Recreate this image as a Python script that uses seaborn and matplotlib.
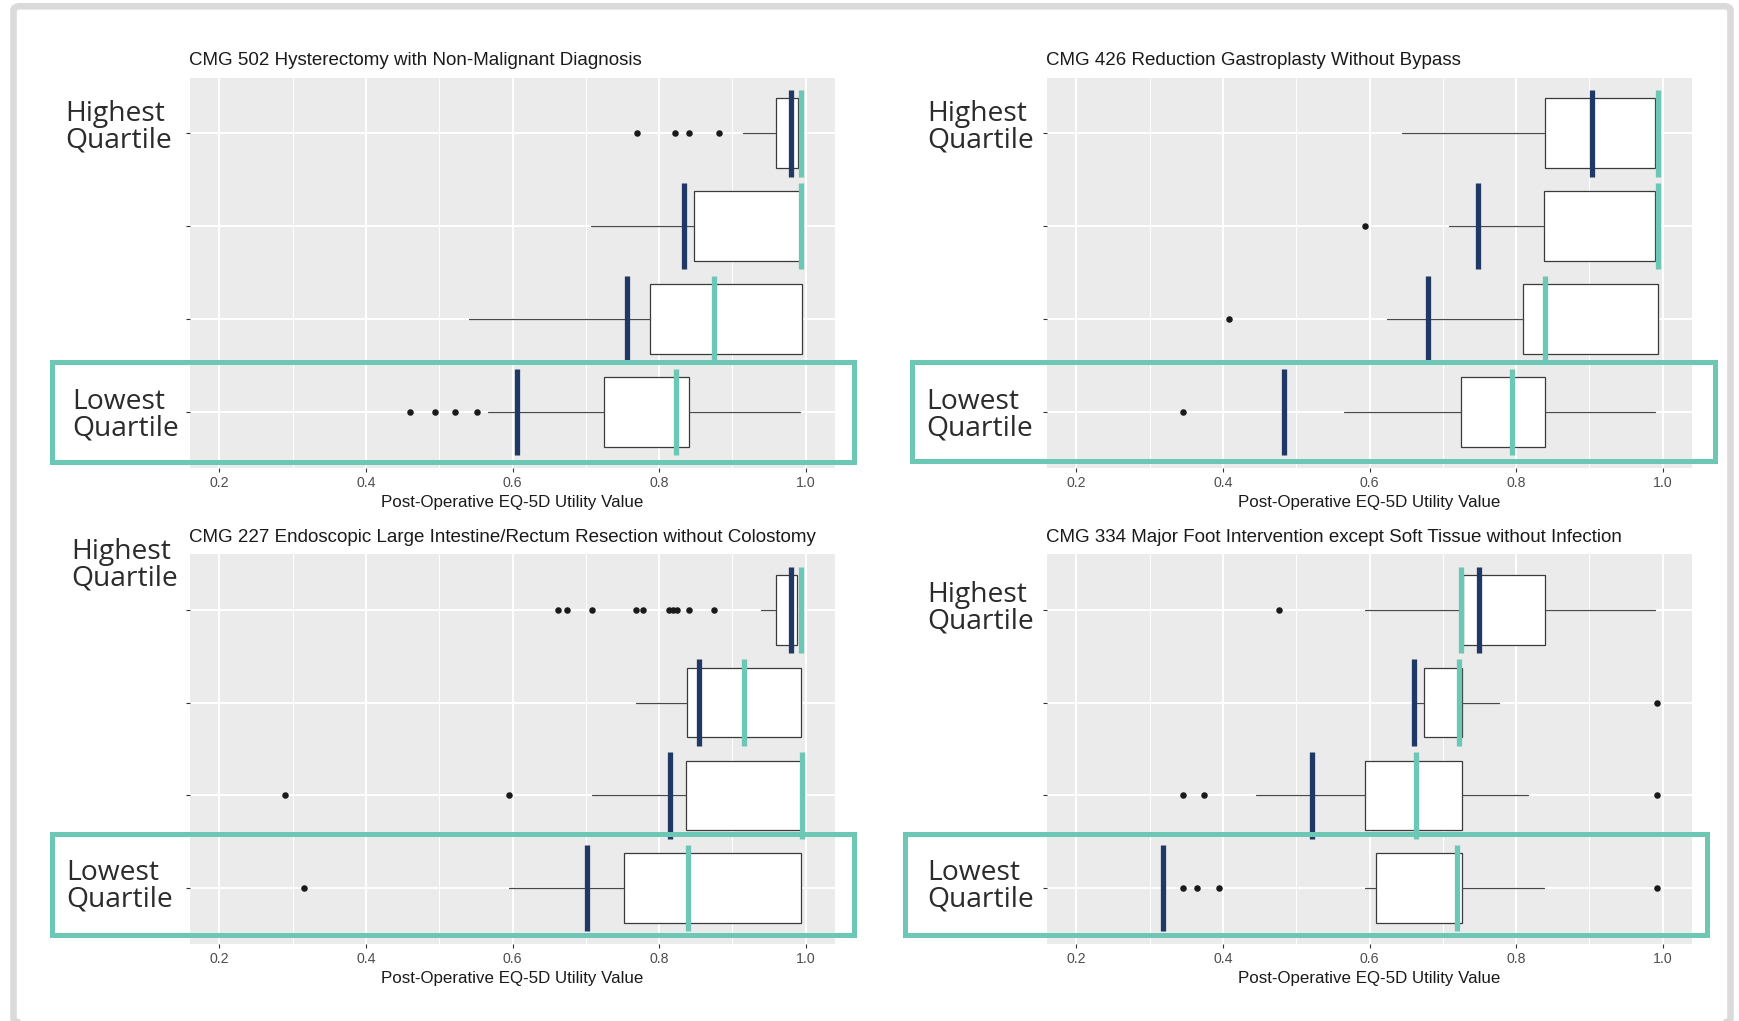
import matplotlib
matplotlib.use("Agg")
import matplotlib.pyplot as plt
from matplotlib.patches import Rectangle, FancyBboxPatch
import seaborn as sns
import pandas as pd

# ---------------------------------------------------------------
# DATA  (rows: Highest quartile -> Lowest quartile)
# ---------------------------------------------------------------
titles = [
    "CMG 502 Hysterectomy with Non-Malignant Diagnosis",
    "CMG 426 Reduction Gastroplasty Without Bypass",
    "CMG 227 Endoscopic Large Intestine/Rectum Resection without Colostomy",
    "CMG 334 Major Foot Intervention except Soft Tissue without Infection",
]
x_label = "Post-Operative EQ-5D Utility Value"
x_ticks = [0.2, 0.4, 0.6, 0.8, 1.0]
row_pos = [4, 3, 2, 1]

# CMG 502
p1_whislo = [0.915, 0.707, 0.540, 0.566]
p1_q1     = [0.959, 0.848, 0.788, 0.725]
p1_q3     = [0.989, 0.992, 0.995, 0.841]
p1_whishi = [0.989, 0.992, 0.995, 0.992]
p1_navy   = [0.980, 0.834, 0.756, 0.606]
p1_teal   = [0.993, 0.993, 0.875, 0.823]
p1_out    = [[0.770, 0.822, 0.841, 0.882], [], [], [0.460, 0.494, 0.521, 0.551]]

# CMG 426
p2_whislo = [0.644, 0.709, 0.624, 0.565]
p2_q1     = [0.840, 0.838, 0.809, 0.725]
p2_q3     = [0.990, 0.990, 0.993, 0.840]
p2_whishi = [0.990, 0.990, 0.993, 0.990]
p2_navy   = [0.904, 0.748, 0.680, 0.483]
p2_teal   = [0.993, 0.993, 0.840, 0.794]
p2_out    = [[], [0.594], [0.408], [0.346]]

# CMG 227
p3_whislo = [0.939, 0.769, 0.708, 0.595]
p3_q1     = [0.959, 0.838, 0.837, 0.752]
p3_q3     = [0.988, 0.994, 0.994, 0.994]
p3_whishi = [0.988, 0.994, 0.994, 0.994]
p3_navy   = [0.980, 0.854, 0.815, 0.702]
p3_teal   = [0.993, 0.916, 0.995, 0.839]
p3_out    = [[0.662, 0.674, 0.708, 0.769, 0.778, 0.814, 0.819, 0.824, 0.841, 0.875],
             [], [0.289, 0.595], [0.316]]

# CMG 334
p4_whislo = [0.594, 0.660, 0.445, 0.594]
p4_q1     = [0.728, 0.675, 0.594, 0.609]
p4_q3     = [0.840, 0.726, 0.726, 0.726]
p4_whishi = [0.990, 0.777, 0.816, 0.838]
p4_navy   = [0.749, 0.661, 0.521, 0.318]
p4_teal   = [0.725, 0.722, 0.663, 0.719]
p4_out    = [[0.477], [0.992], [0.346, 0.374, 0.992], [0.346, 0.365, 0.394, 0.992]]

# ---------------------------------------------------------------
# STYLE / LAYOUT
# ---------------------------------------------------------------
W, H = 1739, 1021
NAVY = "#1f3864"
TEAL = "#6cc7b5"

sns.set_theme(style="darkgrid", rc={"axes.facecolor": "#ebebeb", "grid.color": "white"})
plt.rcParams["font.family"] = ["Liberation Sans", "DejaVu Sans"]

fig = plt.figure(figsize=(W / 100, H / 100), dpi=100)
fig.patch.set_facecolor("white")


def px_axes(x0, y0, x1, y1):
    return fig.add_axes([x0 / W, 1 - y1 / H, (x1 - x0) / W, (y1 - y0) / H])


def px_text(x, y, s, **kw):
    fig.text(x / W, 1 - y / H, s, **kw)


panels = [
    (p1_whislo, p1_q1, p1_q3, p1_whishi, p1_navy, p1_teal, p1_out),
    (p2_whislo, p2_q1, p2_q3, p2_whishi, p2_navy, p2_teal, p2_out),
    (p3_whislo, p3_q1, p3_q3, p3_whishi, p3_navy, p3_teal, p3_out),
    (p4_whislo, p4_q1, p4_q3, p4_whishi, p4_navy, p4_teal, p4_out),
]
boxes_px = [(190, 77.5, 835, 468), (1047, 77.5, 1692, 468),
            (190, 554, 835, 944), (1047, 554, 1692, 944)]

for i, (wlo, q1, q3, whi, navy, teal, outs) in enumerate(panels):
    ax = px_axes(*boxes_px[i])
    stats = [dict(whislo=wlo[k], q1=q1[k], med=q3[k], q3=q3[k], whishi=whi[k], fliers=[])
             for k in range(4)]
    ax.bxp(stats, positions=row_pos, widths=0.75, orientation="horizontal",
           patch_artist=True, showcaps=False, manage_ticks=False,
           boxprops=dict(facecolor="white", edgecolor="#3a3a3a", linewidth=0.9),
           whiskerprops=dict(color="#4a4a4a", linewidth=0.9),
           medianprops=dict(linewidth=0))

    df = pd.DataFrame([(v, row_pos[k]) for k in range(4) for v in outs[k]],
                      columns=["value", "pos"])
    sns.scatterplot(data=df, x="value", y="pos", color="#1a1a1a", s=22,
                    linewidth=0, ax=ax, legend=False, zorder=3)

    ax.vlines(navy, [p - 0.465 for p in row_pos], [p + 0.465 for p in row_pos],
              color=NAVY, linewidth=3.8, zorder=4)
    ax.vlines(teal, [p - 0.465 for p in row_pos], [p + 0.465 for p in row_pos],
              color=TEAL, linewidth=3.8, zorder=5)

    ax.set_xlim(0.16, 1.04)
    ax.set_ylim(0.4, 4.6)
    ax.set_xticks(x_ticks)
    ax.set_xticklabels([f"{t:.1f}" for t in x_ticks])
    ax.set_xticks([0.3, 0.5, 0.7, 0.9], minor=True)
    ax.set_yticks(row_pos)
    ax.set_yticklabels([])
    ax.set_xlabel("")
    ax.set_ylabel("")
    ax.grid(which="major", color="white", linewidth=1.4)
    ax.grid(which="minor", axis="x", color="white", linewidth=0.7)
    ax.tick_params(axis="both", which="major", length=3, width=0.8, color="#333333",
                   labelsize=10.2, labelcolor="#4d4d4d", pad=3, bottom=True, left=True)
    ax.tick_params(which="minor", length=0)
    for sp in ax.spines.values():
        sp.set_visible(False)

    x0, y0, x1, y1 = boxes_px[i]
    px_text(x0 - 1, y0 - 17, titles[i], fontsize=13.5, color="#1a1a1a", va="center", ha="left")
    px_text((x0 + x1) / 2, y1 + 34, x_label, fontsize=12.2, color="#1a1a1a", va="center", ha="center")

# quartile labels
quart_labels = [
    (65, 127, "Highest\nQuartile"), (72, 415, "Lowest\nQuartile"),
    (927, 127, "Highest\nQuartile"), (926, 415, "Lowest\nQuartile"),
    (71, 565, "Highest\nQuartile"), (66, 886, "Lowest\nQuartile"),
    (927, 608, "Highest\nQuartile"), (927, 886, "Lowest\nQuartile"),
]
for x, y, s in quart_labels:
    px_text(x, y, s, fontsize=20.3, family=["Open Sans", "DejaVu Sans"], color="#2b2b2b",
            va="center", ha="left", linespacing=0.95)

# teal highlight rectangles around the lowest quartile
for x0, y0, x1, y1 in [(49, 360, 856, 465), (909, 360, 1717, 464),
                       (49, 831, 856, 937), (902, 831, 1709, 937)]:
    fig.add_artist(Rectangle((x0 / W + 2.5 / W, 1 - (y1 - 2.5) / H),
                             (x1 - x0 - 5) / W, (y1 - y0 - 5) / H,
                             transform=fig.transFigure, fill=False,
                             edgecolor=TEAL, linewidth=3.6, zorder=10))

# light grey page frame
fig.add_artist(FancyBboxPatch((13.5 / W, 1 - 1022.5 / H), (1730.5 - 13.5) / W, (1022.5 - 6.3) / H,
                              boxstyle="round,pad=0,rounding_size=0.004",
                              transform=fig.transFigure, fill=False,
                              edgecolor="#dadada", linewidth=4.7, zorder=11))

fig.savefig("out.png", dpi=100, facecolor="white")
